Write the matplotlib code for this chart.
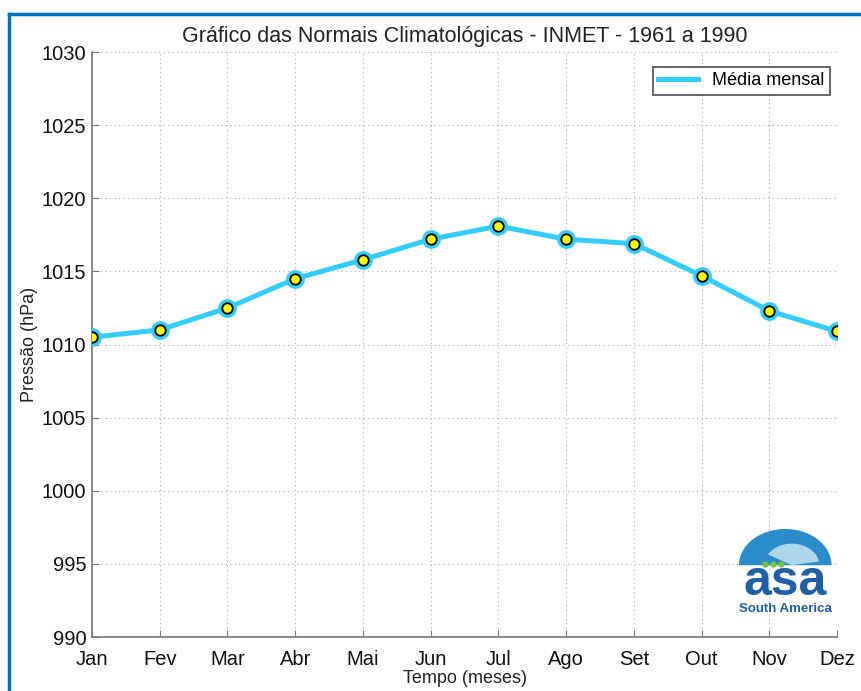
import numpy as np
import matplotlib.pyplot as plt
from matplotlib.patches import Wedge
from matplotlib.lines import Line2D

plt.rcParams['font.family'] = ['Liberation Sans', 'DejaVu Sans']

meses = ['Jan', 'Fev', 'Mar', 'Abr', 'Mai', 'Jun', 'Jul', 'Ago', 'Set', 'Out', 'Nov', 'Dez']
pressao = [1010.5, 1011.0, 1012.5, 1014.5, 1015.8, 1017.2, 1018.1, 1017.2, 1016.9, 1014.7, 1012.3, 1010.9]
yticks = [990, 995, 1000, 1005, 1010, 1015, 1020, 1025, 1030]

x = np.arange(1, len(meses) + 1)

fig = plt.figure(figsize=(8.61, 6.91), dpi=100)
ax = fig.add_axes([0.1069, 0.0781, 0.8653, 0.8466])

# moldura azul da pagina
fig.add_artist(Line2D([0.0105, 1.0], [0.98, 0.98], color='#0070C0', lw=2.5, transform=fig.transFigure))
fig.add_artist(Line2D([0.0105, 0.0105], [0.0, 0.98], color='#0070C0', lw=2.5, transform=fig.transFigure))

ciano = '#33CCFF'
ax.plot(x, pressao, '-o', color=ciano, lw=3.6, ms=12.5, mec=ciano, mfc=ciano, zorder=3)
ax.plot(x, pressao, 'o', ms=7.5, mfc='#FFFF00', mec='black', mew=1.3, zorder=4)

ax.set_xlim(1, 12)
ax.set_ylim(990, 1030)
ax.set_xticks(x)
ax.set_xticklabels(meses)
ax.set_yticks(yticks)

ax.grid(True, linestyle=(0, (1, 3)), color='#aaaaaa', lw=0.8)
for s in ['top', 'right']:
    ax.spines[s].set_visible(False)
for s in ['left', 'bottom']:
    ax.spines[s].set_color('#777777')
    ax.spines[s].set_linewidth(1.2)
ax.tick_params(direction='in', length=5, color='#777777', labelsize=14.5, labelcolor='#111111')
ax.tick_params(axis='x', pad=9)
ax.tick_params(axis='y', pad=4)

ax.set_title('Gráfico das Normais Climatológicas - INMET - 1961 a 1990', fontsize=15.5, color='#222222', pad=7)
ax.set_ylabel('Pressão (hPa)', fontsize=13, color='#222222', labelpad=3)
ax.set_xlabel('Tempo (meses)', fontsize=13, color='#222222', labelpad=1)

leg = ax.legend([Line2D([0], [0], color=ciano, lw=3.6)], ['Média mensal'],
                loc='upper right', bbox_to_anchor=(1.003, 0.99), fontsize=13,
                fancybox=False, handlelength=2.2, borderpad=0.3, framealpha=1)
leg.get_frame().set_edgecolor('#666666')
leg.get_frame().set_linewidth(1.4)

# logo aproximado
lax = fig.add_axes([0.848, 0.112, 0.128, 0.125])
lax.set_xlim(0, 1)
lax.set_ylim(0, 1)
lax.axis('off')
lax.add_patch(Wedge((0.5, 0.56), 0.42, 0, 180, facecolor='#2A8CCB', edgecolor='none'))
lax.add_patch(Wedge((0.56, 0.56), 0.25, 10, 150, facecolor='#CFEAF6', edgecolor='none', alpha=0.8))
lax.text(0.5, 0.37, 'asa', ha='center', va='center', fontsize=36, fontweight='bold', color='#1F5FA8')
lax.text(0.5, 0.05, 'South America', ha='center', va='center', fontsize=9.5, fontweight='bold', color='#1F5FA8')
for px in [0.32, 0.39, 0.46]:
    lax.plot(px, 0.58, 'o', color='#7AC143', ms=3.5)

plt.savefig('out.png', dpi=100)
